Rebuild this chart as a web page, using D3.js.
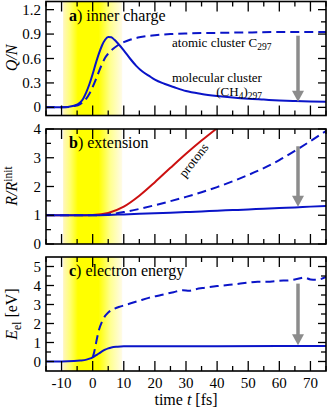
<!DOCTYPE html>
<html>
<head>
<meta charset="utf-8">
<script src="https://d3js.org/d3.v7.min.js"></script>
</head>
<body style="margin:0">
<svg width="332" height="409"></svg>
<script>
// ---- data ----
// a) inner charge Q/N
var tChargeMol = [-15, -10, -6, -4, -3, -2, -1, 0, 1, 2, 3, 4, 5, 6, 7, 8, 10, 12, 14, 16, 18, 20, 23, 26, 30, 35, 40, 45, 50, 55, 60, 65, 70, 75];
var qMol = [0, 0, 0.02, 0.06, 0.11, 0.19, 0.29, 0.41, 0.54, 0.66, 0.76, 0.83, 0.865, 0.86, 0.83, 0.79, 0.7, 0.6, 0.51, 0.44, 0.39, 0.34, 0.29, 0.25, 0.2, 0.165, 0.14, 0.12, 0.105, 0.095, 0.085, 0.078, 0.072, 0.068];
var tChargeAt = [-15, -10, -6, -4, -3, -2, -1, 0, 1, 2, 3, 4, 5, 6, 8, 10, 12, 15, 20, 25, 30, 40, 50, 60, 70, 75];
var qAtom = [0, 0, 0.015, 0.04, 0.07, 0.11, 0.17, 0.25, 0.34, 0.44, 0.53, 0.61, 0.66, 0.7, 0.76, 0.8, 0.83, 0.86, 0.885, 0.9, 0.908, 0.915, 0.92, 0.925, 0.926, 0.926];

// b) extension R/R_init
var tExt = [-15, -5, 0, 5, 10, 15, 20, 25, 30, 35, 40, 45, 50, 55, 60, 65, 70, 75];
var rProton = [1, 1, 1.01, 1.08, 1.3, 1.68, 2.15, 2.65, 3.14, 3.6, 4.03, 4.45, 4.9, 5.35, 5.8, 6.25, 6.7, 7.15];
var rAtom = [1, 1, 1.0, 1.03, 1.11, 1.22, 1.35, 1.49, 1.64, 1.8, 1.98, 2.18, 2.4, 2.64, 2.92, 3.24, 3.58, 3.93];
var rMol = [1, 1, 1.0, 1.01, 1.03, 1.05, 1.07, 1.09, 1.11, 1.13, 1.16, 1.18, 1.2, 1.23, 1.25, 1.27, 1.3, 1.32];

// c) electron energy E_el [eV]
var tEnMol = [-15, -10, -6, -4, -2, -1, 0, 1, 2, 3, 4, 5, 6, 8, 10, 20, 40, 60, 75];
var eMol = [0, 0, 0.02, 0.05, 0.1, 0.15, 0.22, 0.32, 0.42, 0.53, 0.62, 0.69, 0.74, 0.78, 0.8, 0.8, 0.8, 0.81, 0.82];
var tEnAt = [0, 0.5, 1, 1.5, 2, 3, 4, 5, 6, 7, 9, 12, 15, 18, 22, 26, 29, 31, 33, 36, 40, 45, 50, 53, 56, 60, 63, 66, 68, 70, 72, 75];
var eAtom = [0.2, 0.5, 0.9, 1.3, 1.65, 2.1, 2.4, 2.58, 2.7, 2.78, 2.9, 3.05, 3.2, 3.35, 3.5, 3.65, 3.75, 3.72, 3.8, 3.88, 3.97, 4.05, 4.15, 4.2, 4.2, 4.25, 4.27, 4.35, 4.42, 4.32, 4.3, 4.45];

var xTicks = [-10, 0, 10, 20, 30, 40, 50, 60, 70];
var panelNames = ["inner charge", "extension", "electron energy"];

// ---- layout ----
var serif = "Liberation Serif";
var svg = d3.select("svg");
var blue = "#0a14c8";
var red = "#cc1010";

var scaleX = d3.scaleLinear()
               .domain([-15, 75])
               .range([46, 326]);

var panels = [
  { key: "a", y: d3.scaleLinear().domain([-0.1, 1.3]).range([115.5, 1.5]), major: [0, 0.3, 0.6, 0.9, 1.2], minor: [0.15, 0.45, 0.75, 1.05], fmt: function(d) { return d === 0 ? "0" : d.toFixed(1); } },
  { key: "b", y: d3.scaleLinear().domain([0, 4]).range([244, 129]), major: [0, 1, 2, 3, 4], minor: [0.5, 1.5, 2.5, 3.5], fmt: d3.format("d") },
  { key: "c", y: d3.scaleLinear().domain([-0.5, 5.5]).range([371, 257]), major: [0, 1, 2, 3, 4, 5], minor: [0.5, 1.5, 2.5, 3.5, 4.5], fmt: d3.format("d") }
];

var defs = svg.append("defs");
var grad = defs.append("linearGradient")
               .attr("id", "pulse")
               .attr("x1", "0%").attr("x2", "100%")
               .attr("y1", "0%").attr("y2", "0%");
[[0, "#fff6c0"], [0.12, "#ffff70"], [0.25, "#ffff00"], [0.6, "#ffff00"], [0.8, "#ffff90"], [1, "#fffbe8"]].forEach(function(s) {
  grad.append("stop").attr("offset", s[0]).attr("stop-color", s[1]);
});

function drawFrame(p, i) {
  var y0 = p.y.range()[0], y1 = p.y.range()[1];
  var g = svg.append("g");

  defs.append("clipPath").attr("id", "clip" + i)
      .append("rect")
      .attr("x", scaleX(-15)).attr("y", y1)
      .attr("width", scaleX(75) - scaleX(-15)).attr("height", y0 - y1);

  // laser pulse
  g.append("rect")
   .attr("x", scaleX(-9.5))
   .attr("y", y1)
   .attr("width", scaleX(9.5) - scaleX(-9.5))
   .attr("height", y0 - y1)
   .attr("fill", "url(#pulse)");

  p.plot = svg.append("g").attr("clip-path", "url(#clip" + i + ")");
  p.top = svg.append("g");
  return g;
}

function drawAxes(p, i) {
  var y0 = p.y.range()[0], y1 = p.y.range()[1];
  var g = p.top;
  var xl = scaleX(-15), xr = scaleX(75);

  // x ticks top and bottom, inward
  var xMinor = d3.range(-15, 76, 10);
  xTicks.forEach(function(t) {
    g.append("line").attr("x1", scaleX(t)).attr("x2", scaleX(t)).attr("y1", y0).attr("y2", y0 - 10);
    g.append("line").attr("x1", scaleX(t)).attr("x2", scaleX(t)).attr("y1", y1).attr("y2", y1 + 10);
  });
  xMinor.forEach(function(t) {
    g.append("line").attr("x1", scaleX(t)).attr("x2", scaleX(t)).attr("y1", y0).attr("y2", y0 - 5);
    g.append("line").attr("x1", scaleX(t)).attr("x2", scaleX(t)).attr("y1", y1).attr("y2", y1 + 5);
  });
  p.major.forEach(function(v) {
    g.append("line").attr("x1", xl).attr("x2", xl + 8).attr("y1", p.y(v)).attr("y2", p.y(v));
    g.append("line").attr("x1", xr).attr("x2", xr - 8).attr("y1", p.y(v)).attr("y2", p.y(v));
    g.append("text")
     .attr("x", xl - 5)
     .attr("y", p.y(v) + 5)
     .attr("text-anchor", "end")
     .attr("font-family", serif)
     .attr("font-size", 15)
     .text(p.fmt(v));
  });
  p.minor.forEach(function(v) {
    g.append("line").attr("x1", xl).attr("x2", xl + 5).attr("y1", p.y(v)).attr("y2", p.y(v));
    g.append("line").attr("x1", xr).attr("x2", xr - 5).attr("y1", p.y(v)).attr("y2", p.y(v));
  });
  g.selectAll("line").attr("stroke", "black").attr("stroke-width", 1.3);

  g.append("rect")
   .attr("x", xl).attr("y", y1)
   .attr("width", xr - xl).attr("height", y0 - y1)
   .attr("fill", "none")
   .attr("stroke", "black")
   .attr("stroke-width", 1.6);

  var lab = g.append("text")
             .attr("x", 69)
             .attr("y", y1 + 19)
             .attr("font-family", serif)
             .attr("font-size", 16);
  lab.append("tspan").attr("font-weight", "bold").text(p.key);
  lab.append("tspan").text(") " + panelNames[i]);
}

function curve(p, xs, ys, color, dashed) {
  var line = d3.line()
               .x(function(d, i) { return scaleX(xs[i]); })
               .y(function(d) { return p.y(d); })
               .curve(d3.curveMonotoneX);
  p.plot.append("path")
        .attr("d", line(ys))
        .attr("fill", "none")
        .attr("stroke", color)
        .attr("stroke-width", 2)
        .attr("stroke-dasharray", dashed ? "9,5" : null);
}

function arrow(p, t, v0, v1) {
  var x = scaleX(t), ya = p.y(v0), yb = p.y(v1);
  p.top.append("line")
       .attr("x1", x).attr("x2", x)
       .attr("y1", ya).attr("y2", yb - 10)
       .attr("stroke", "#8c8c8c")
       .attr("stroke-width", 3.5);
  p.top.append("path")
       .attr("d", "M" + (x - 6) + "," + (yb - 11) + "L" + (x + 6) + "," + (yb - 11) + "L" + x + "," + yb + "Z")
       .attr("fill", "#8c8c8c");
}

panels.forEach(drawFrame);

curve(panels[0], tChargeMol, qMol, blue, false);
curve(panels[0], tChargeAt, qAtom, blue, true);
curve(panels[1], tExt, rProton, red, false);
curve(panels[1], tExt, rAtom, blue, true);
curve(panels[1], tExt, rMol, blue, false);
curve(panels[2], tEnMol, eMol, blue, false);
curve(panels[2], tEnAt, eAtom, blue, true);

panels.forEach(drawAxes);

arrow(panels[0], 66, 0.88, 0.07);
arrow(panels[1], 66, 3.4, 1.3);
arrow(panels[2], 66, 4.1, 0.85);

// annotations
var t1 = svg.append("text").attr("x", 172).attr("y", 47).attr("font-family", serif).attr("font-size", 13);
t1.append("tspan").text("atomic cluster C");
t1.append("tspan").attr("font-size", 9.5).attr("dy", 3).text("297");

svg.append("text").attr("x", 172).attr("y", 82).attr("font-family", serif).attr("font-size", 13).text("molecular cluster");
var t2 = svg.append("text").attr("x", 262).attr("y", 96).attr("font-family", serif).attr("font-size", 13).attr("text-anchor", "end");
t2.append("tspan").text("(CH");
t2.append("tspan").attr("font-size", 9.5).attr("dy", 3).text("4");
t2.append("tspan").attr("dy", -3).text(")");
t2.append("tspan").attr("font-size", 9.5).attr("dy", 3).text("297");

svg.append("text")
   .attr("transform", "translate(197,163) rotate(-52)")
   .attr("text-anchor", "middle")
   .attr("font-family", serif)
   .attr("font-size", 13)
   .text("protons");

// axis titles
var yt1 = svg.append("text").attr("transform", "translate(17,58) rotate(-90)").attr("text-anchor", "middle").attr("font-family", serif).attr("font-size", 16);
yt1.append("tspan").attr("font-style", "italic").text("Q/N");

var yt2 = svg.append("text").attr("transform", "translate(17,186) rotate(-90)").attr("text-anchor", "middle").attr("font-family", serif).attr("font-size", 16);
yt2.append("tspan").attr("font-style", "italic").text("R/R");
yt2.append("tspan").attr("font-size", 11.5).attr("dy", -5).text("init");

var yt3 = svg.append("text").attr("transform", "translate(17,314) rotate(-90)").attr("text-anchor", "middle").attr("font-family", serif).attr("font-size", 16);
yt3.append("tspan").attr("font-style", "italic").text("E");
yt3.append("tspan").attr("font-size", 11.5).attr("dy", 4).text("el");
yt3.append("tspan").attr("dy", -4).text(" [eV]");

xTicks.forEach(function(t) {
  svg.append("text")
     .attr("x", scaleX(t))
     .attr("y", 388)
     .attr("text-anchor", "middle")
     .attr("font-family", serif)
     .attr("font-size", 15)
     .text(t);
});

var xt = svg.append("text").attr("x", 186).attr("y", 405).attr("text-anchor", "middle").attr("font-family", serif).attr("font-size", 16);
xt.append("tspan").text("time ");
xt.append("tspan").attr("font-style", "italic").text("t");
xt.append("tspan").text(" [fs]");
</script>
</body>
</html>
